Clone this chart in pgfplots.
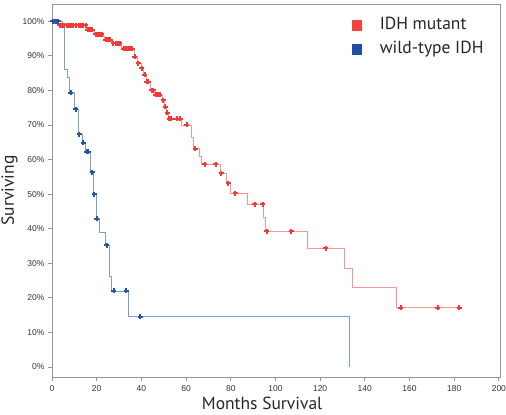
\documentclass[border=0pt]{standalone}
\usepackage{pgfplots}
\pgfplotsset{compat=1.18}
\usepackage{fontspec}
\setmainfont{PT Sans}
\newfontfamily\tickfont{Liberation Sans}
\definecolor{redmark}{RGB}{240,58,58}
\definecolor{redline}{RGB}{245,150,150}
\definecolor{bluemark}{RGB}{36,84,165}
\definecolor{blueline}{RGB}{125,158,208}
\definecolor{legred}{RGB}{244,67,58}
\definecolor{legblue}{RGB}{31,79,165}
\definecolor{axgray}{RGB}{150,150,150}
\begin{document}
\begin{tikzpicture}
\useasboundingbox (-52pt,-37.7pt) rectangle (454pt,377pt);
\begin{axis}[
  scale only axis,
  width=448pt, height=373pt,
  xmin=0, xmax=200.5,
  ymin=-2.9, ymax=105,
  axis line style={axgray, line width=0.8pt},
  tick style={axgray, line width=0.8pt},
  tick align=outside,
  major tick length=4pt,
  xtick pos=bottom, ytick pos=left,
  xtick={0,20,...,200},
  xticklabels={0,20,40,60,80,100,120,140,160,180,200},
  ytick={0,10,...,100},
  yticklabels={0\%,10\%,20\%,30\%,40\%,50\%,60\%,70\%,80\%,90\%,100\%},
  ticklabel style={font=\tickfont\fontsize{8.5}{9}\selectfont, text=black!80},
  xticklabel style={yshift=-1pt},
  /pgf/number format/assume math mode=true,
  xlabel={Months Survival},
  xlabel style={font=\fontsize{17.5}{20}\selectfont, at={(axis description cs:0.469,0)}, anchor=base, yshift=-32.5pt, text=black!85},
  ylabel={Surviving},
  ylabel style={font=\fontsize{17.5}{20}\selectfont, at={(axis description cs:-0.085,0.5)}, anchor=base, text=black!85},
  legend style={at={(axis description cs:0.67,0.965)}, anchor=north west, draw=none, fill=none,
    font=\fontsize{17.5}{20}\selectfont, inner sep=0pt, row sep=7pt,
    nodes={inner sep=0pt, text height=12.5pt, text depth=4pt, text=black!85},
    /tikz/every odd column/.style={column sep=18pt}},
  legend cell align=left,
  clip=false,
]
\addlegendimage{legend image code/.code={\fill[legred] (0pt,-5pt) rectangle (9pt,5pt);}}
\addlegendentry{IDH mutant}
\addlegendimage{legend image code/.code={\fill[legblue] (0pt,-5pt) rectangle (9pt,5pt);}}
\addlegendentry{wild-type IDH}

% red step
\addplot[const plot, redline, line width=0.7pt, forget plot] coordinates {
(0,100) (2.5,98.8) (15.5,97.5) (19.0,96.3) (22.8,95.5) (23.5,94.6) (26.7,93.6)
(31.0,92.5) (31.5,92.0) (36.8,89.8) (38.3,87.9) (39.8,86.4) (41.0,84.5)
(42.3,82.5) (44.2,80.1) (46.0,78.7) (49.3,77.1) (50.3,75.3) (51.2,73.6)
(52.2,71.8) (58.0,70.0) (62.2,66.5) (63.3,63.1) (65.9,60.9) (67.0,58.7)
(75.2,56.1) (78.2,53.2) (80.0,50.3) (87.4,47.1) (94.8,43.4) (95.7,39.2)
(114.3,34.4) (130.7,28.6) (134.4,23.0) (154.2,17.2) (182.2,17.2)
};
% blue step
\addplot[const plot, blueline, line width=0.7pt, forget plot] coordinates {
(0,100) (4.6,98.1) (5.7,86.1) (6.8,83.7) (7.6,79.3) (10.0,74.5) (11.6,67.3)
(13.5,64.8) (15.0,62.3) (17.0,56.3) (18.6,50.0) (19.8,42.9) (21.2,39.0)
(23.8,35.2) (25.6,26.2) (26.7,22.0) (34.1,14.5) (133.3,14.5) (133.3,0)
};
% red censor marks
\addplot[only marks, mark=+, mark size=2.5pt, redmark, mark options={line width=2pt}, forget plot] coordinates {
(0.8,100) (1.8,100)
(3.5,98.8) (4.5,98.8) (5.5,98.8) (6.5,98.8) (7.5,98.8) (8.5,98.8) (9.5,98.8)
(10.8,98.8) (12.0,98.8) (13.0,98.8) (14.0,98.8) (15.0,98.8)
(16.0,97.5) (17.0,97.5) (18.0,97.5)
(19.5,96.3) (20.5,96.3) (21.5,96.3) (22.3,96.3)
(24.0,94.6) (25.0,94.6) (26.0,94.6)
(27.5,93.6) (28.5,93.6) (29.5,93.6) (30.3,93.6)
(32.0,92.0) (33.0,92.0) (34.0,92.0) (35.0,92.0) (36.0,92.0)
(37.1,89.8) (38.6,87.9) (40.1,86.4) (41.6,84.5) (42.5,82.5) (43.1,82.5)
(44.6,80.1) (45.3,80.1) (46.5,78.7) (47.3,78.7) (48.3,78.7)
(49.8,77.1) (50.6,75.3) (51.6,73.6)
(52.5,71.8) (53.3,71.8) (55.8,71.8) (57.4,71.8)
(60.3,70.0) (64.0,63.1) (68.4,58.7) (73.2,58.7) (75.7,56.1) (78.8,53.2)
(82.0,50.3) (90.8,47.1) (94.3,47.1) (96.0,39.2) (107.0,39.2) (122.5,34.4)
(156.0,17.2) (172.6,17.2) (182.2,17.2)
};
% blue censor marks
\addplot[only marks, mark=+, mark size=2.5pt, bluemark, mark options={line width=2pt}, forget plot] coordinates {
(0.3,100) (1.6,100) (2.9,100)
(8.4,79.3) (10.7,74.5) (12.2,67.3) (13.9,64.8) (15.6,62.3) (16.2,62.3)
(18.0,56.3) (19.0,50.0) (20.1,42.9) (24.5,35.2) (27.7,22.0) (33.2,22.0)
(39.5,14.5)
};
\end{axis}
\end{tikzpicture}
\end{document}
